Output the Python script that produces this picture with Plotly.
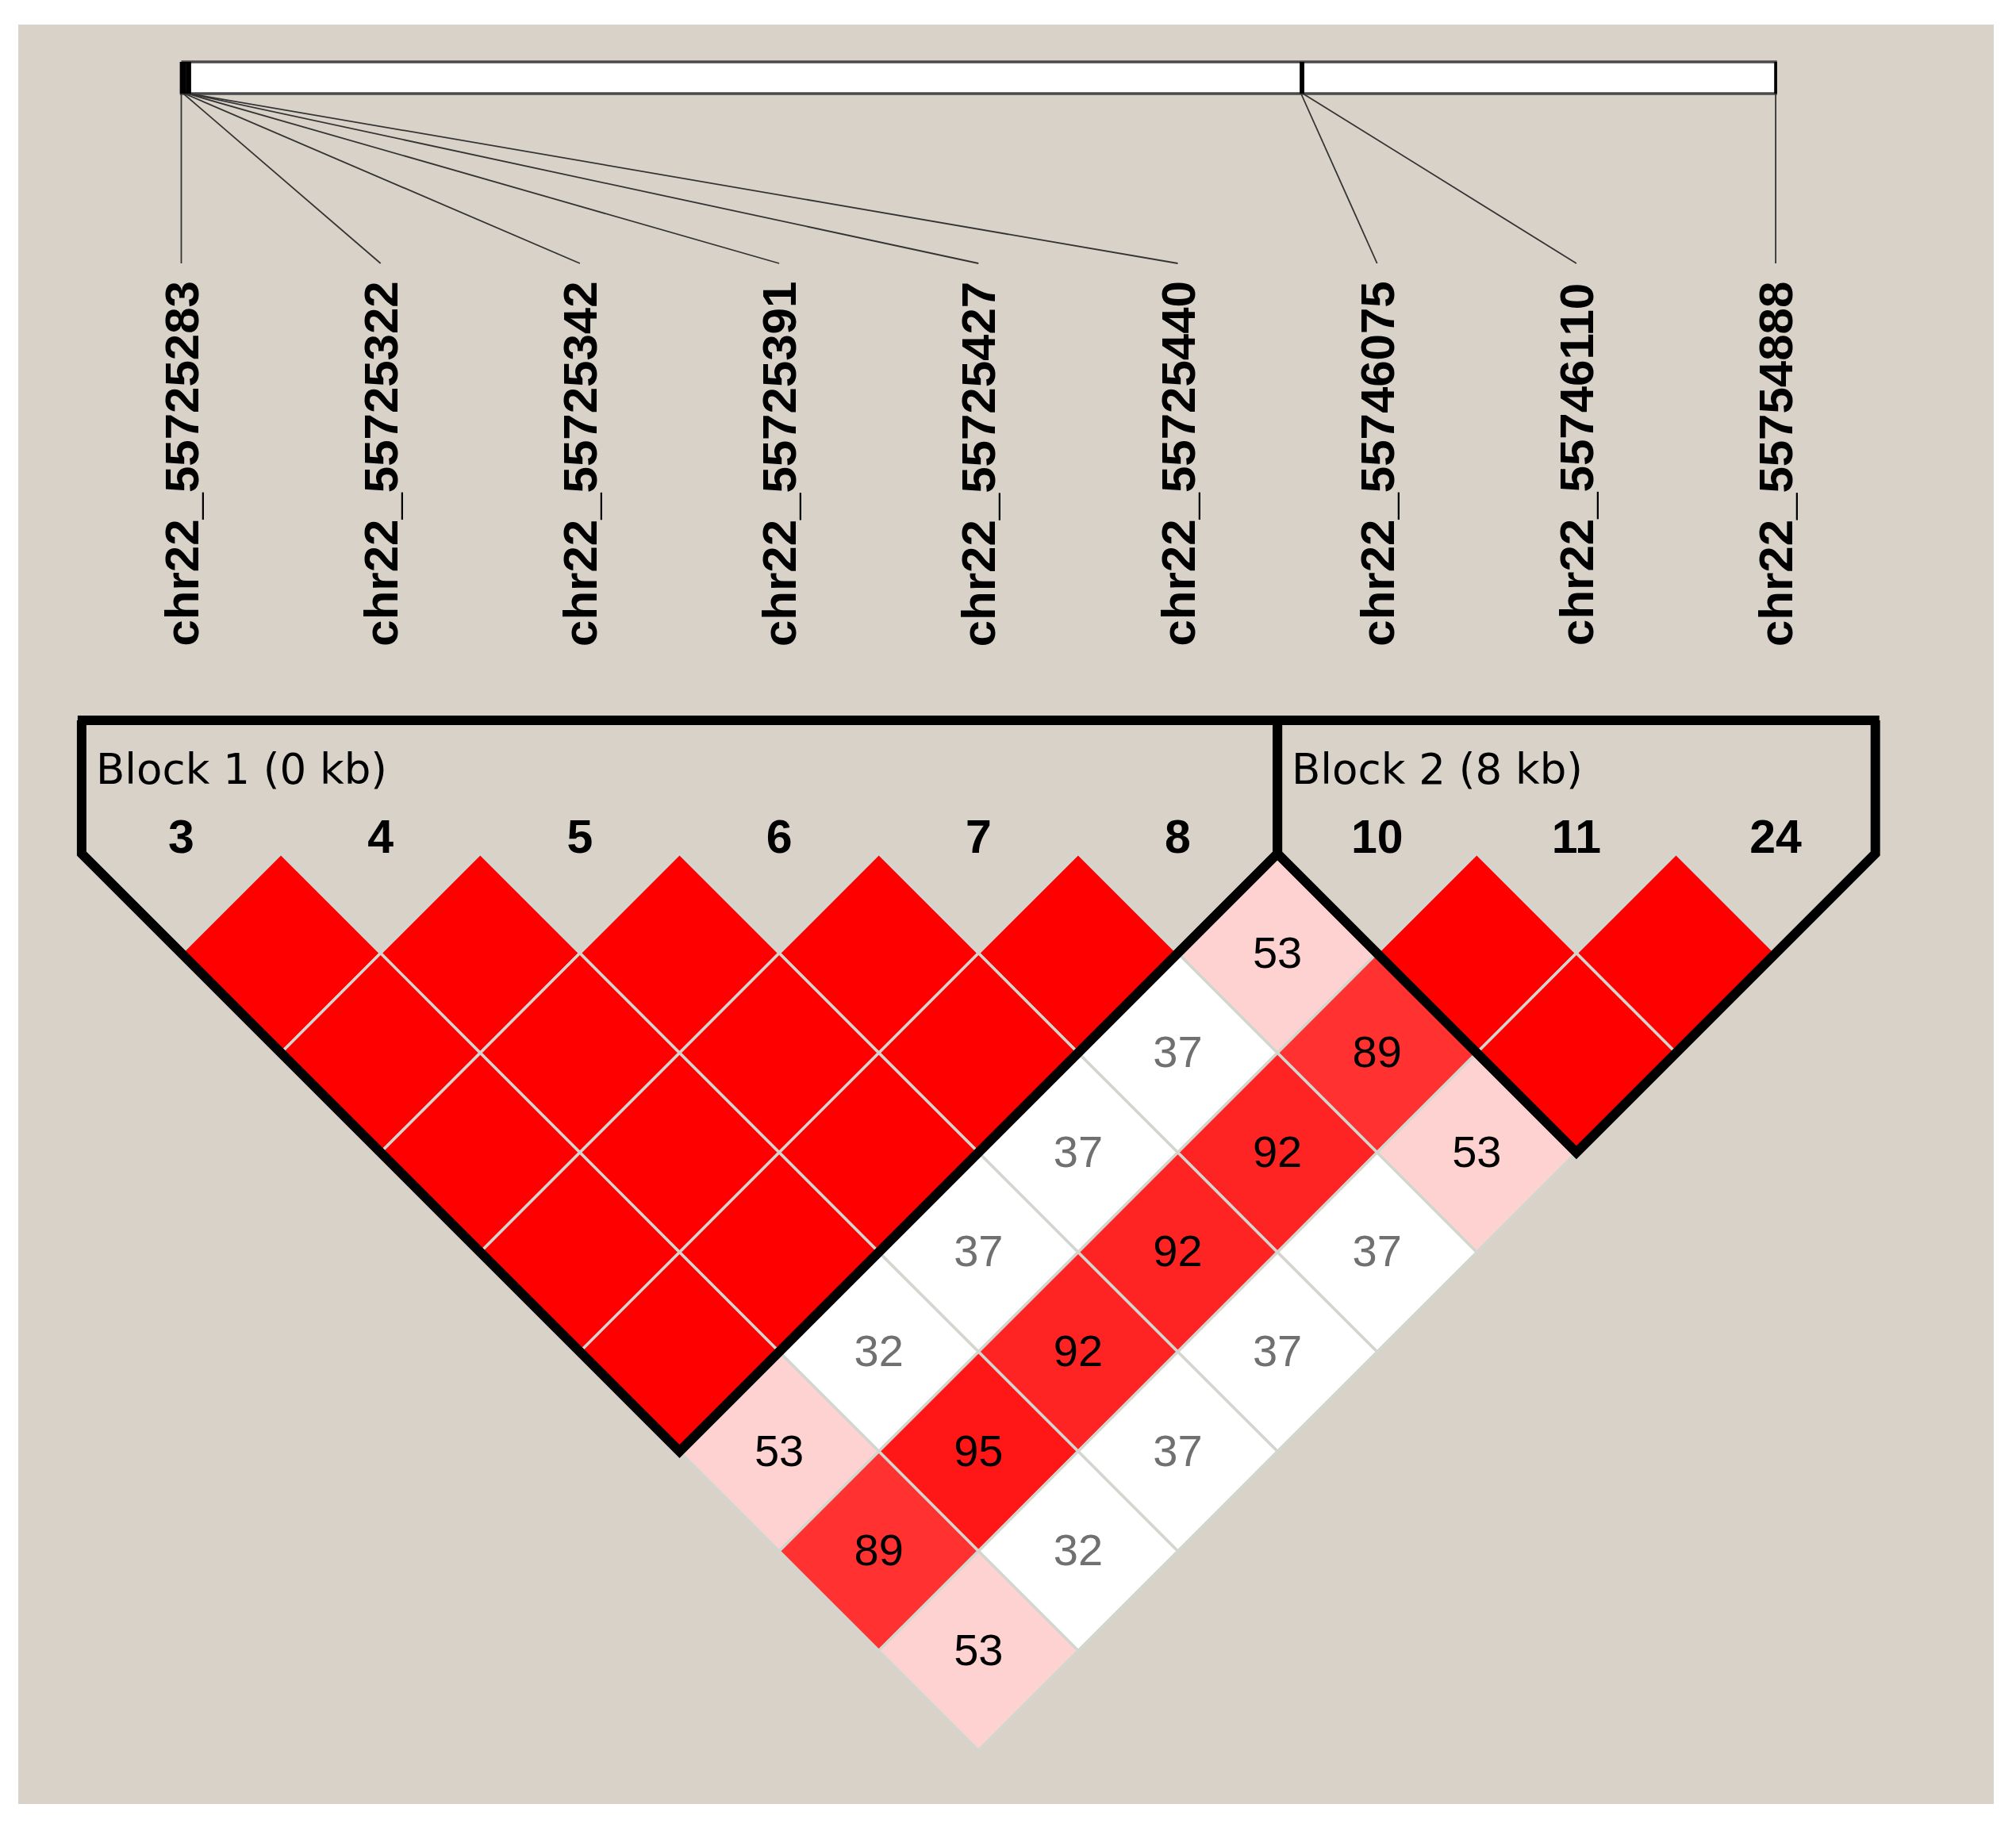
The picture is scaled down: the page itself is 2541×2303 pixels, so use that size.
import plotly.graph_objects as go

# ---------------- data ----------------
snp_names = ["chr22_55725283", "chr22_55725322", "chr22_55725342", "chr22_55725391",
             "chr22_55725427", "chr22_55725440", "chr22_55746075", "chr22_55746110",
             "chr22_55754888"]
snp_positions = [55725283, 55725322, 55725342, 55725391, 55725427, 55725440,
                 55746075, 55746110, 55754888]
marker_numbers = ["3", "4", "5", "6", "7", "8", "10", "11", "24"]

# D' x100 for pairs (i, i+d); one list per distance d
dprime_d1 = [100, 100, 100, 100, 100, 53, 100, 100]
dprime_d2 = [100, 100, 100, 100, 37, 89, 100]
dprime_d3 = [100, 100, 100, 37, 92, 53]
dprime_d4 = [100, 100, 37, 92, 37]
dprime_d5 = [100, 32, 92, 37]
dprime_d6 = [53, 95, 37]
dprime_d7 = [89, 32]
dprime_d8 = [53]
dprime_rows = [dprime_d1, dprime_d2, dprime_d3, dprime_d4,
               dprime_d5, dprime_d6, dprime_d7, dprime_d8]

block_first = [0, 6]
block_last = [5, 8]
block_titles = ["Block 1 (0 kb)", "Block 2 (8 kb)"]

# ---------------- styling / layout constants ----------------
W, H = 2541, 2303
PAGE_OFF = 8  # default body margin of the html page
X0_PX, UNIT_PX, Y0_PX = 228.5 - PAGE_OFF, 251.2, 1076.0 - PAGE_OFF
BG = "#D8D2C9"
n = len(snp_names)

def px_to_x(p):
    return (p - PAGE_OFF - X0_PX) / UNIT_PX

def px_to_y(p):
    return (p - PAGE_OFF - Y0_PX) / UNIT_PX

BAR_TOP = px_to_y(78)
BAR_BOT = px_to_y(118)
LINK_END = px_to_y(332)
LABEL_MID = px_to_y(585)
BLOCK_TOP = px_to_y(908)
BLOCK_LABEL_Y = px_to_y(969)
NUM_Y = px_to_y(1060)
TEXT_NUDGE = 4 / UNIT_PX

fig = go.Figure()

# --- LD cells ---
cell_x, cell_y, cell_txt, cell_tc = [], [], [], []
for d, row in enumerate(dprime_rows, start=1):
    for i, v in enumerate(row):
        j = i + d
        cx, cy = (i + j) / 2, d / 2
        g = min(255, int(round(2 * (255 - 32) * (1 - v / 100))))
        color = f"rgb(255,{g},{g})"
        fig.add_trace(go.Scatter(
            x=[cx, cx + 0.5, cx, cx - 0.5, cx],
            y=[cy - 0.5, cy, cy + 0.5, cy, cy - 0.5],
            mode="lines", fill="toself", fillcolor=color,
            line=dict(color="#D2D6CE", width=3.5),
            hoverinfo="skip", showlegend=False))
        if v < 100:
            cell_x.append(cx)
            cell_y.append(cy + TEXT_NUDGE)
            cell_txt.append(str(v))
            cell_tc.append("#707070" if g >= 255 else "#000000")

fig.add_trace(go.Scatter(
    x=cell_x, y=cell_y, text=cell_txt, mode="text",
    textfont=dict(family="Liberation Sans, Arial", size=56, color=cell_tc),
    textposition="middle center", hoverinfo="skip", showlegend=False))

# --- block outlines ---
for a, b in zip(block_first, block_last):
    xs = [a - 0.5, a - 0.5, (a + b) / 2, b + 0.5, b + 0.5]
    ys = [BLOCK_TOP, 0, (b - a + 1) / 2, 0, BLOCK_TOP]
    fig.add_trace(go.Scatter(x=xs, y=ys, mode="lines",
                             line=dict(color="black", width=12),
                             hoverinfo="skip", showlegend=False))
# top line across both blocks
fig.add_trace(go.Scatter(x=[block_first[0] - 0.5 - 0.02, block_last[-1] + 0.5 + 0.02],
                         y=[BLOCK_TOP, BLOCK_TOP], mode="lines",
                         line=dict(color="black", width=12),
                         hoverinfo="skip", showlegend=False))

# --- marker numbers ---
fig.add_trace(go.Scatter(
    x=list(range(n)), y=[NUM_Y] * n, text=marker_numbers, mode="text",
    textfont=dict(family="Liberation Sans, Arial", size=59, color="black", weight="bold"),
    textposition="middle center", hoverinfo="skip", showlegend=False))

# --- genomic bar ---
p0, p1 = snp_positions[0], snp_positions[-1]
bar_x = [(p - p0) / (p1 - p0) * (n - 1) for p in snp_positions]
fig.add_trace(go.Scatter(
    x=[0, n - 1, n - 1, 0, 0], y=[BAR_TOP, BAR_TOP, BAR_BOT, BAR_BOT, BAR_TOP],
    mode="lines", fill="toself", fillcolor="white",
    line=dict(color="#4A4A4A", width=3.5), hoverinfo="skip", showlegend=False))

lx, ly, tx, ty = [], [], [], []
for k, bx in enumerate(bar_x):
    lx += [bx, k, None]
    ly += [BAR_BOT, LINK_END, None]
    tx += [bx, bx, None]
    ty += [BAR_TOP, BAR_BOT, None]
fig.add_trace(go.Scatter(x=lx, y=ly, mode="lines",
                         line=dict(color="#333333", width=1.8),
                         hoverinfo="skip", showlegend=False))
fig.add_trace(go.Scatter(x=tx, y=ty, mode="lines",
                         line=dict(color="black", width=3.5),
                         hoverinfo="skip", showlegend=False))

# --- annotations: SNP names and block titles ---
annotations = []
for k, name in enumerate(snp_names):
    annotations.append(dict(
        x=k, y=LABEL_MID, xref="x", yref="y", text=name, showarrow=False,
        textangle=-90, xanchor="center", yanchor="middle",
        font=dict(family="Liberation Sans, Arial", size=60, color="black", weight="bold")))
for a, title in zip(block_first, block_titles):
    annotations.append(dict(
        x=a - 0.5 + 0.065, y=BLOCK_LABEL_Y, xref="x", yref="y", text=title,
        showarrow=False, xanchor="left", yanchor="middle",
        font=dict(family="DejaVu Sans", size=53, color="black")))

fig.update_layout(
    width=W, height=H,
    margin=dict(l=0, r=0, t=0, b=0),
    paper_bgcolor="white", plot_bgcolor="rgba(0,0,0,0)",
    xaxis=dict(range=[px_to_x(PAGE_OFF), px_to_x(W + PAGE_OFF)], visible=False, fixedrange=True),
    yaxis=dict(range=[px_to_y(H + PAGE_OFF), px_to_y(PAGE_OFF)], visible=False, fixedrange=True),
    shapes=[dict(type="rect", xref="paper", yref="paper",
                 x0=(23 - PAGE_OFF) / W, x1=(2513 - PAGE_OFF) / W,
                 y0=1 - (2274 - PAGE_OFF) / H, y1=1 - (31 - PAGE_OFF) / H,
                 fillcolor=BG, line=dict(width=0), layer="below")],
    annotations=annotations,
)

fig.write_html("out.html")
